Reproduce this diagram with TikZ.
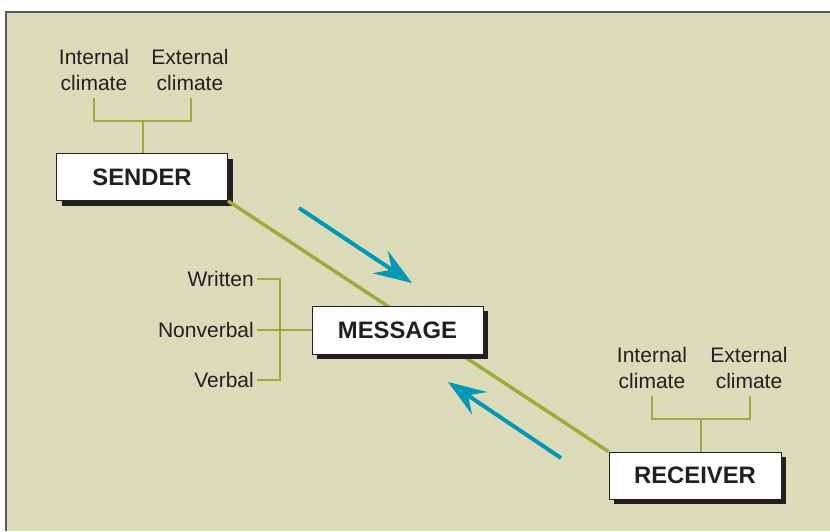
\documentclass[tikz,border=0pt]{standalone}
\usepackage{fontspec}
\setmainfont{Liberation Sans}
\usepackage{tikz}
\usetikzlibrary{arrows.meta,calc,positioning,shadows,shapes}

\definecolor{paper}{HTML}{DCDBB9}
\definecolor{olive}{HTML}{9DAA3C}
\definecolor{teal}{HTML}{0098B2}
\definecolor{ink}{HTML}{231F20}

\begin{document}
\begin{tikzpicture}[x=1pt,y=-1pt,>=Stealth]
	\tikzstyle{block} = [draw=ink, fill=white, rectangle, line width=0.8pt, minimum height=47pt, minimum width=171pt, text=ink, font=\fontsize{23.8}{28}\selectfont\bfseries, drop shadow={shadow xshift=5pt, shadow yshift=-5pt, fill=ink, opacity=1}]
	\tikzstyle{lbl} = [text=ink, align=center, inner sep=2pt, font=\fontsize{21}{25.5}\selectfont]
	\tikzstyle{bracket} = [draw=olive, line width=1.3pt]
	\tikzstyle{link} = [draw=olive, line width=3.5pt]
	\tikzstyle{flow} = [draw=teal, line width=4pt, -{Stealth[length=38pt, width=27pt, inset=14pt]}]
	
	\useasboundingbox (0,0) rectangle (830,531);
	\fill[paper] (6,12) rectangle (830,531);
	\draw[ink!75, line width=2pt] (6,531) -- (6,12) -- (830,12);
	
	% sender side
	\node[block] (sender) at (142,177) {SENDER};
	\node[lbl] (sint) at (94,70) {Internal\\climate};
	\node[lbl] (sext) at (190,70) {External\\climate};
	\coordinate (sa) at (94,98);
	\coordinate (sc) at (191,98);
	\coordinate (sj) at (143,121);
	\draw[bracket] (sa) |- (sj) -| (sc);
	\draw[bracket] (sj) -- (sender.north -| sj);
	
	% receiver side
	\node[block, minimum width=172pt] (receiver) at (695,475.5) {RECEIVER};
	\node[lbl] (rint) at (652,368) {Internal\\climate};
	\node[lbl] (rext) at (749,368) {External\\climate};
	\coordinate (ra) at (652,396);
	\coordinate (rc) at (750,396);
	\coordinate (rj) at (701,419);
	\draw[bracket] (ra) |- (rj) -| (rc);
	\draw[bracket] (rj) -- (receiver.north -| rj);
	
	\draw[link] (sender.south east) -- (receiver.north west);
	
	% message and its forms
	\node[block, minimum height=48pt] (message) at (397.5,330) {MESSAGE};
	\node[lbl, anchor=east] (written) at (256,279) {Written};
	\node[lbl, anchor=east] (nonverbal) at (256,330) {Nonverbal};
	\node[lbl, anchor=east] (verbal) at (256,380) {Verbal};
	\coordinate (mj) at (280,330);
	\draw[bracket] (written.east) ++(1,0) -| (mj) |- ($(verbal.east)+(1,0)$);
	\draw[bracket] ($(nonverbal.east)+(1,0)$) -- (message.west);
	
	% direction of flow
	\coordinate (go1) at (299,208);
	\coordinate (to1) at (412,283);
	\coordinate (go2) at (561,458);
	\coordinate (to2) at (448,382);
	\draw[flow] (go1) -- (to1);
	\draw[flow] (go2) -- (to2);
	
\end{tikzpicture}
\end{document}
